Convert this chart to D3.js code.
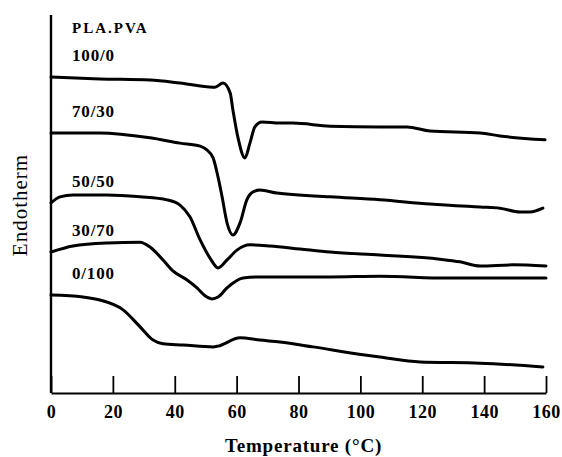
<!DOCTYPE html>
<html>
<head>
<meta charset="utf-8">
<script src="https://cdn.jsdelivr.net/npm/d3@7"></script>
<style>
  body { margin: 0; background: #fff; }
  text { font-family: "Liberation Serif", "Times New Roman", serif; fill: #000; }
</style>
</head>
<body>
<div id="chart"></div>
<script>
// DSC traces, PLA/PVA blends (endotherm in arbitrary units)
var blendNames = ["100/0", "70/30", "50/50", "30/70", "0/100"];

var temp1000 = [0, 15.8, 32, 41.7, 52.4, 53, 55.6, 57.9, 58.8, 60.4, 62.7, 64.3, 65.9, 68.2, 74, 78.2, 90.2, 106.3, 115.1, 122.5, 138.7, 145.1, 159.7];
var endo1000 = [83.6, 83.1, 82.8, 82.0, 80.9, 80.9, 82.0, 79.4, 74.9, 67.7, 62.2, 66.1, 70.4, 71.7, 71.4, 71.4, 70.6, 70.4, 70.4, 69.3, 68.8, 68.0, 67.0];

var temp7030 = [0, 15.8, 32, 41.7, 48.2, 50.4, 52.4, 54, 55.3, 56.9, 58.8, 61.1, 63.3, 65.3, 67.5, 73, 90.2, 106.3, 122.5, 138.7, 145.1, 151.6, 154.8, 159];
var endo7030 = [68.8, 68.8, 67.5, 66.1, 65.3, 64.3, 62.2, 57.1, 51.9, 45.0, 41.8, 45.0, 51.1, 53.2, 53.7, 52.9, 51.9, 51.1, 50.0, 49.2, 48.9, 47.9, 47.9, 48.9];

var temp5050 = [0, 2.9, 7.1, 18.1, 28.8, 37.5, 41.7, 44.9, 48.2, 51.4, 54, 56.9, 60.1, 64.3, 70.8, 80.5, 90.2, 106.3, 125.7, 132.2, 138.7, 149.3, 160];
var endo5050 = [50.3, 51.9, 52.4, 52.4, 51.9, 51.1, 49.7, 46.6, 40.5, 35.7, 33.1, 35.2, 37.8, 39.2, 38.9, 38.1, 37.3, 36.5, 35.4, 34.7, 33.6, 33.9, 33.6];

var temp3070 = [0, 7.1, 18.1, 28.8, 32, 36.2, 39.4, 44, 47.2, 49.8, 52, 54, 56.9, 62.1, 67.5, 90.2, 106.3, 128, 160];
var endo3070 = [37.3, 38.9, 39.7, 39.9, 38.6, 35.2, 32.3, 29.9, 27.8, 25.7, 24.9, 25.4, 27.8, 30.4, 30.7, 30.7, 30.9, 30.4, 30.4];

var temp0100 = [0, 10.3, 15.8, 23.3, 28.8, 33, 36.2, 42.7, 52.4, 54, 61.1, 67.5, 74, 84.7, 100.8, 106.3, 119.3, 138.7, 159];
var endo0100 = [25.9, 25.4, 24.6, 22.0, 17.5, 14.0, 13.0, 12.7, 12.2, 12.4, 14.6, 14.0, 13.5, 12.2, 10.1, 9.5, 8.2, 7.9, 6.9];

var xTicks = [0, 20, 40, 60, 80, 100, 120, 140, 160];

var allTemps = [temp1000, temp7030, temp5050, temp3070, temp0100];
var allEndo = [endo1000, endo7030, endo5050, endo3070, endo0100];

var svgWidth = 562;
var svgHeight = 457;

var margin = { top: 15, bottom: 64, right: 16, left: 51 };
var width = svgWidth - margin.left - margin.right;
var height = svgHeight - margin.top - margin.bottom;

var svg = d3.select("#chart")
    .append("svg")
    .attr("width", svgWidth)
    .attr("height", svgHeight);

var chartGroup = svg.append("g")
    .attr("transform", `translate(${margin.left}, ${margin.top})`);

var xScale = d3.scaleLinear().domain([0, 160]).range([0, width]);
var yScale = d3.scaleLinear().domain([0, 100]).range([height, 0]);

// x axis with inward ticks
var bottomAxis = d3.axisBottom(xScale)
    .tickValues(xTicks)
    .tickSize(-17)
    .tickSizeOuter(0)
    .tickPadding(8);

var xAxis = chartGroup.append("g")
    .attr("transform", `translate(0, ${height})`)
    .call(bottomAxis);

xAxis.select(".domain").attr("stroke-width", 2.2);
xAxis.selectAll(".tick line").attr("stroke-width", 1.8);
xAxis.selectAll(".tick text")
    .attr("font-family", "Liberation Serif, serif")
    .style("font-size", "18px")
    .attr("font-weight", "bold")
    .style("letter-spacing", "0.5px")
    .attr("dy", "0.95em");

// y axis: a bare line
chartGroup.append("line")
    .attr("x1", 0).attr("x2", 0)
    .attr("y1", 0).attr("y2", height)
    .attr("stroke", "#000")
    .attr("stroke-width", 2.4);

var line = d3.line()
    .x(d => xScale(d[0]))
    .y(d => yScale(d[1]))
    .curve(d3.curveMonotoneX);

allTemps.forEach(function(temps, i) {
    var pts = temps.map((t, j) => [t, allEndo[i][j]]);
    chartGroup.append("path")
        .datum(pts)
        .attr("d", line)
        .attr("fill", "none")
        .attr("stroke", "#000")
        .attr("stroke-width", 3)
        .attr("stroke-linejoin", "round")
        .attr("stroke-linecap", "round");

    // blend label sits just above the start of its trace
    chartGroup.append("text")
        .attr("x", xScale(6.8))
        .attr("y", yScale(allEndo[i][0]) - 16)
        .style("font-size", "17px")
        .attr("font-weight", 600)
        .style("letter-spacing", "0.8px")
        .text(blendNames[i]);
});

chartGroup.append("text")
    .attr("x", xScale(6.8))
    .attr("y", 33 - margin.top)
    .style("font-size", "15px")
    .attr("font-weight", "bold")
    .style("letter-spacing", "2px")
    .text("PLA.PVA");

// axis titles
svg.append("text")
    .attr("x", margin.left + width / 2 + 5)
    .attr("y", 452)
    .attr("text-anchor", "middle")
    .style("font-size", "19px")
    .attr("font-weight", "bold")
    .style("letter-spacing", "0.8px")
    .text("Temperature (°C)");

svg.append("text")
    .attr("transform", "translate(27, 205) rotate(-90)")
    .attr("text-anchor", "middle")
    .style("font-size", "21px")
    .style("letter-spacing", "1px")
    .text("Endotherm");
</script>
</body>
</html>
